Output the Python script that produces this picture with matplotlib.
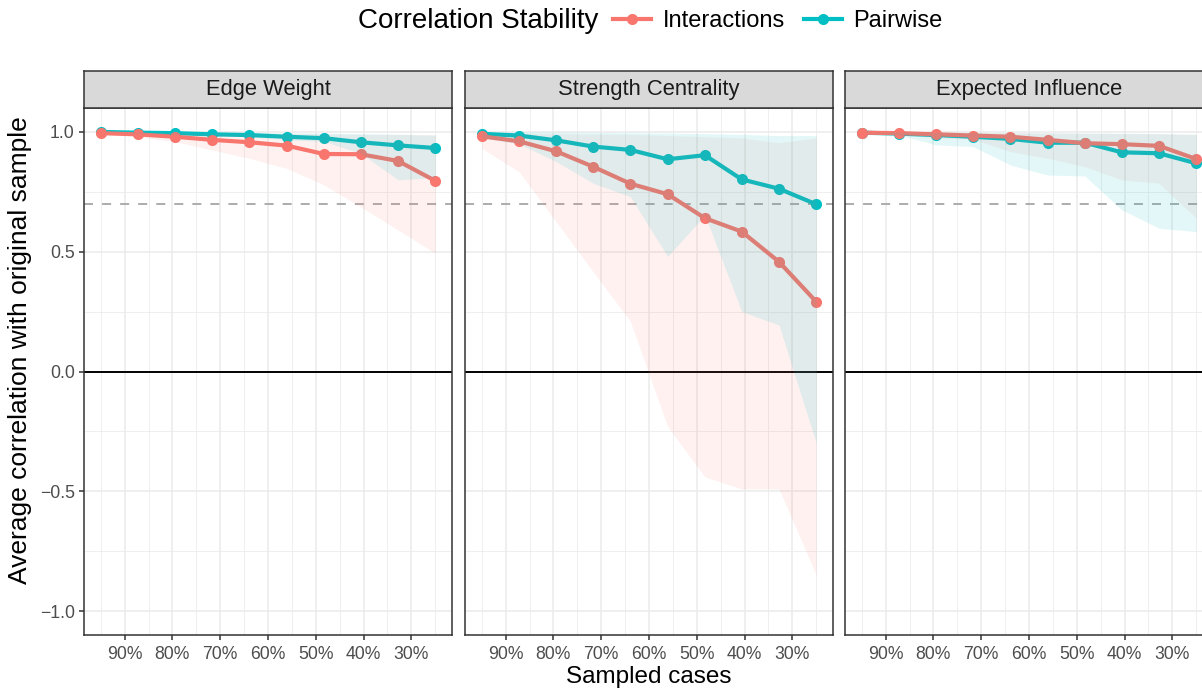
import matplotlib
matplotlib.use('Agg')
import matplotlib.pyplot as plt
from matplotlib.lines import Line2D

plt.rcParams['font.family'] = ['Liberation Sans', 'DejaVu Sans']

# Anteil der gezogenen Faelle (x-Achse, umgekehrt)
sampled = [95.0, 87.2, 79.4, 71.7, 63.9, 56.1, 48.3, 40.6, 32.8, 25.0]

panels = ['Edge Weight', 'Strength Centrality', 'Expected Influence']
series = ['Interactions', 'Pairwise']

# Edge Weight
ew_int = [0.995, 0.99, 0.98, 0.967, 0.957, 0.943, 0.908, 0.907, 0.879, 0.796]
ew_pair = [1.0, 0.997, 0.995, 0.99, 0.987, 0.98, 0.974, 0.957, 0.944, 0.933]
ew_int_lo = [1.0, 0.98, 0.96, 0.925, 0.89, 0.848, 0.779, 0.688, 0.591, 0.494]
ew_int_hi = [1.0, 0.999, 0.998, 0.996, 0.995, 0.993, 0.992, 0.99, 0.99, 0.988]
ew_pair_lo = [1.0, 0.995, 0.99, 0.985, 0.98, 0.967, 0.96, 0.911, 0.80, 0.81]
ew_pair_hi = [1.0, 1.0, 1.0, 0.999, 0.998, 0.997, 0.995, 0.993, 0.99, 0.987]

# Strength Centrality
sc_int = [0.982, 0.961, 0.919, 0.855, 0.784, 0.74, 0.64, 0.584, 0.458, 0.291]
sc_pair = [0.992, 0.985, 0.965, 0.939, 0.925, 0.886, 0.903, 0.802, 0.763, 0.698]
sc_int_lo = [0.932, 0.834, 0.625, 0.417, 0.21, -0.23, -0.44, -0.49, -0.49, -0.85]
sc_int_hi = [0.995, 0.995, 0.993, 0.99, 0.99, 0.985, 0.98, 0.975, 0.955, 0.975]
sc_pair_lo = [0.975, 0.95, 0.876, 0.786, 0.73, 0.48, 0.653, 0.25, 0.194, -0.30]
sc_pair_hi = [1.0, 1.0, 1.0, 0.998, 0.997, 0.995, 0.993, 0.99, 0.985, 0.985]

# Expected Influence
ei_int = [0.997, 0.995, 0.99, 0.985, 0.98, 0.967, 0.953, 0.949, 0.942, 0.887]
ei_pair = [0.997, 0.993, 0.987, 0.98, 0.971, 0.955, 0.955, 0.915, 0.911, 0.869]
ei_int_lo = [1.0, 0.99, 0.974, 0.97, 0.918, 0.89, 0.855, 0.80, 0.786, 0.64]
ei_int_hi = [1.0, 1.0, 0.999, 0.998, 0.997, 0.996, 0.995, 0.994, 0.993, 0.99]
ei_pair_lo = [1.0, 0.987, 0.946, 0.939, 0.862, 0.82, 0.816, 0.675, 0.598, 0.584]
ei_pair_hi = [1.0, 1.0, 0.999, 0.998, 0.997, 0.996, 0.995, 0.994, 0.993, 0.99]

x_ticks = [90, 80, 70, 60, 50, 40, 30]
x_minor = [95, 85, 75, 65, 55, 45, 35, 25]
y_ticks = [-1.0, -0.5, 0.0, 0.5, 1.0]
y_labels = ['\u22121.0', '\u22120.5', '0.0', '0.5', '1.0']
y_minor = [-0.75, -0.25, 0.25, 0.75]

data = {
    'Edge Weight': (ew_int, ew_pair, ew_int_lo, ew_int_hi, ew_pair_lo, ew_pair_hi),
    'Strength Centrality': (sc_int, sc_pair, sc_int_lo, sc_int_hi, sc_pair_lo, sc_pair_hi),
    'Expected Influence': (ei_int, ei_pair, ei_int_lo, ei_int_hi, ei_pair_lo, ei_pair_hi),
}

col_int = '#F8766D'
col_pair = '#00BFC4'
lw_line = 3.0
ms_pt = 8.0

W, H = 1202, 689
fig = plt.figure(figsize=(W / 100, H / 100), dpi=100)

left_px = [84, 465, 845]
pw = 368
top_px, bot_px = 108, 635
strip_top = 71

for i, name in enumerate(panels):
    l = left_px[i] / W
    ax = fig.add_axes([l, (H - bot_px) / H, pw / W, (bot_px - top_px) / H])
    yi, yp, ilo, ihi, plo, phi = data[name]

    # Linien und Punkte, danach die Baender (wie in ggplot)
    ax.plot(sampled, yp, color=col_pair, lw=lw_line, zorder=3)
    ax.plot(sampled, yi, color=col_int, lw=lw_line, zorder=3)
    ax.plot(sampled, yp, 'o', color=col_pair, ms=ms_pt, mew=0, zorder=4)
    ax.plot(sampled, yi, 'o', color=col_int, ms=ms_pt, mew=0, zorder=4)
    ax.fill_between(sampled, ilo, ihi, color=col_int, alpha=0.1, lw=0, zorder=5)
    ax.fill_between(sampled, plo, phi, color=col_pair, alpha=0.11, lw=0, zorder=5)

    ax.axhline(0.7, color='#A6A6A6', lw=1.3, ls=(0, (5, 5)), zorder=2)
    ax.axhline(0.0, color='black', lw=1.4, zorder=2)

    ax.set_xlim(98.5, 21.5)
    ax.set_ylim(-1.1, 1.1)
    ax.set_xticks(x_ticks)
    ax.set_xticklabels([f'{t}%' for t in x_ticks])
    ax.set_xticks(x_minor, minor=True)
    ax.set_yticks(y_ticks)
    ax.set_yticks(y_minor, minor=True)
    if i == 0:
        ax.set_yticklabels(y_labels)
        ax.tick_params(axis='y', which='major', length=3.6, width=1.1, color='#333333',
                       labelsize=12.7, labelcolor='#4D4D4D', pad=3)
    else:
        ax.tick_params(axis='y', which='major', length=0, labelleft=False)
    ax.tick_params(axis='y', which='minor', length=0)
    ax.tick_params(axis='x', which='major', length=3.6, width=1.1, color='#333333',
                   labelsize=12.7, labelcolor='#4D4D4D', pad=4)
    ax.tick_params(axis='x', which='minor', length=0)

    ax.grid(True, which='major', color='#EBEBEB', lw=1.1, zorder=0)
    ax.grid(True, which='minor', color='#EBEBEB', lw=0.55, zorder=0)
    ax.set_axisbelow(True)
    for s in ax.spines.values():
        s.set_color('#333333')
        s.set_linewidth(1.1)

    # Streifen mit Panel-Titel
    sax = fig.add_axes([l, (H - top_px) / H, pw / W, (top_px - strip_top) / H])
    sax.set_facecolor('#D9D9D9')
    sax.set_xticks([])
    sax.set_yticks([])
    for s in sax.spines.values():
        s.set_color('#333333')
        s.set_linewidth(1.1)
    sax.text(0.5, 0.5, name, ha='center', va='center', fontsize=15.8,
             color='#1A1A1A', transform=sax.transAxes)

# Achsentitel
fig.text(649 / W, 1 - 677 / H, 'Sampled cases', ha='center', va='center', fontsize=17.5)
fig.text(20 / W, 1 - 350 / H, 'Average correlation with original sample', ha='center',
         va='center', rotation=90, fontsize=19)

# Legende oben
fig.text(358 / W, 1 - 21 / H, 'Correlation Stability', ha='left', va='center', fontsize=20)
handles = [Line2D([0], [0], color=col_int, lw=lw_line, marker='o', ms=ms_pt, mew=0),
           Line2D([0], [0], color=col_pair, lw=lw_line, marker='o', ms=ms_pt, mew=0)]
fig.legend(handles, series, loc='center left', bbox_to_anchor=(613 / W, 1 - 21 / H),
           ncol=2, frameon=False, fontsize=17, handlelength=1.6, handletextpad=0.5,
           columnspacing=0.8, borderpad=0, borderaxespad=0)

fig.savefig('out.png', dpi=100)
